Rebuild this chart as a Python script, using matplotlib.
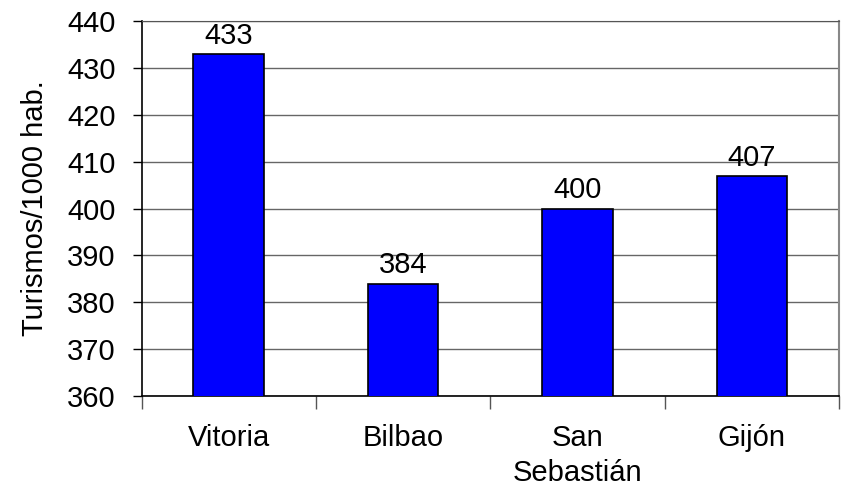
import matplotlib
matplotlib.use("Agg")
import matplotlib.pyplot as plt
import numpy as np

categories = ["Vitoria", "Bilbao", "San\nSebastián", "Gijón"]
values = [433, 384, 400, 407]
yticks = [360, 370, 380, 390, 400, 410, 420, 430, 440]

plt.rcParams['font.family'] = ['Liberation Sans', 'DejaVu Sans']

W, H = 843, 492
FS = 21
fig = plt.figure(figsize=(W/100, H/100), dpi=100)
ax = fig.add_axes([141.5/W, 1 - 396/H, (839-141.5)/W, (396-21)/H])

x = np.arange(len(categories))
ax.bar(x, values, width=0.405, bottom=0, color='#0000FF', edgecolor='black', linewidth=1.2, zorder=3)
ax.set_ylim(360, 440)
ax.set_xlim(-0.5, len(categories) - 0.5)
ax.set_yticks(yticks)
ax.tick_params(axis='y', labelsize=FS, length=6.5, width=1, direction='out', pad=12)
ax.set_xticks(x)
ax.set_xticklabels(categories, fontsize=FS, linespacing=1.35)
ax.tick_params(axis='x', length=0, pad=20)
ax.set_xticks(np.arange(-0.5, len(categories), 1.0), minor=True)
ax.tick_params(axis='x', which='minor', length=9, width=1, color='#555555', direction='out')

ax.yaxis.grid(True, color='#666666', linewidth=1, zorder=0)
ax.set_axisbelow(True)
for s in ['left', 'bottom']:
    ax.spines[s].set_color('black')
    ax.spines[s].set_linewidth(1.2)
ax.spines['top'].set_color('#555555')
ax.spines['right'].set_color('#888888')
ax.spines['right'].set_linewidth(1.5)

for xi, v in zip(x, values):
    ax.annotate(f"{v}", (xi, v), xytext=(0, 3), textcoords='offset points',
                ha='center', va='bottom', fontsize=FS)

ax.set_ylabel("Turismos/1000 hab.", fontsize=FS, labelpad=13)

fig.savefig("out.png", dpi=100)
